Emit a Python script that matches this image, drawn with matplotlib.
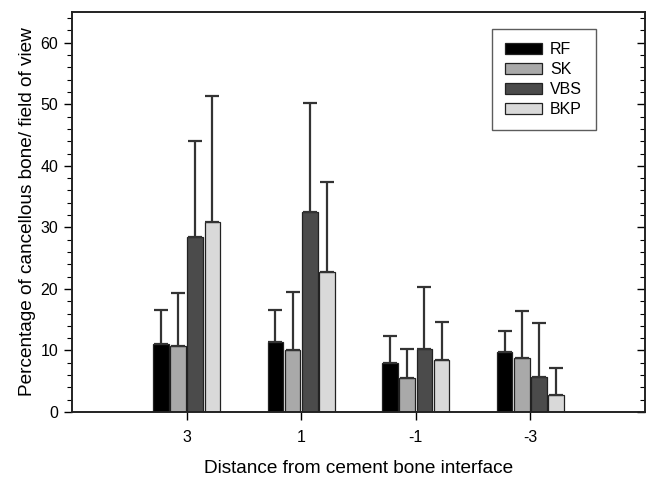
import numpy as np
import matplotlib
matplotlib.use("Agg")
import matplotlib.pyplot as plt
from matplotlib.ticker import MultipleLocator

plt.rcParams['font.family'] = ['Liberation Sans', 'DejaVu Sans']

distances = ['3', '1', '-1', '-3']
groups = ['RF', 'SK', 'VBS', 'BKP']
colors = ['#000000', '#a9a9a9', '#4b4b4b', '#d9d9d9']

means = {
    'RF':  [11.0, 11.3, 7.9, 9.8],
    'SK':  [10.7, 10.0, 5.6, 8.7],
    'VBS': [28.5, 32.5, 10.3, 5.7],
    'BKP': [30.9, 22.8, 8.4, 2.7],
}
upper = {
    'RF':  [16.6, 16.5, 12.3, 13.1],
    'SK':  [19.3, 19.5, 10.3, 16.4],
    'VBS': [44.0, 50.2, 20.3, 14.5],
    'BKP': [51.3, 37.3, 14.7, 7.1],
}

fig = plt.figure(figsize=(6.49, 4.78), dpi=100)
ax = fig.add_axes([72 / 649, 1 - 412 / 478, 573 / 649, 400 / 478])

x = np.arange(len(distances))
width = 0.135
step = 0.15
for i, g in enumerate(groups):
    m = np.array(means[g])
    err = np.array(upper[g]) - m
    ax.bar(x + (i - 1.5) * step, m, width, color=colors[i], edgecolor='#222222',
           linewidth=0.9, label=g, zorder=2,
           yerr=[np.zeros_like(err), err],
           error_kw=dict(ecolor='#333333', elinewidth=1.6, capsize=5, capthick=1.6))

ax.set_xlim(-1, 4)
ax.set_ylim(0, 65)
ax.set_xticks(x)
ax.set_xticklabels(distances)
ax.yaxis.set_major_locator(MultipleLocator(10))
ax.yaxis.set_minor_locator(MultipleLocator(2))
ax.tick_params(axis='x', direction='out', length=6, width=1, pad=7, labelsize=11.5)
ax.tick_params(axis='y', which='major', direction='out', length=6, width=1, pad=4, labelsize=11.5)
ax.tick_params(axis='y', which='minor', direction='out', length=3.5, width=0.8)

# right spine carries inward ticks, no labels
ax2 = ax.twinx()
ax2.set_ylim(ax.get_ylim())
ax2.yaxis.set_major_locator(MultipleLocator(10))
ax2.yaxis.set_minor_locator(MultipleLocator(2))
ax2.tick_params(axis='y', which='both', direction='in', labelright=False)
ax2.tick_params(axis='y', which='major', length=6, width=1)
ax2.tick_params(axis='y', which='minor', length=3.5, width=0.8)

for a in (ax, ax2):
    for s in a.spines.values():
        s.set_linewidth(1.2)
        s.set_color('#222222')

ax.set_xlabel('Distance from cement bone interface', fontsize=13.7, labelpad=11)
ax.set_ylabel('Percentage of cancellous bone/ field of view', fontsize=13.7, labelpad=3)

leg = ax.legend(loc='upper right', bbox_to_anchor=(0.914, 0.958), fancybox=False,
                edgecolor='#333333', fontsize=11.5, handlelength=2.3, handleheight=0.7,
                borderpad=0.85, labelspacing=0.3, handletextpad=0.5, borderaxespad=0)
leg.get_frame().set_linewidth(1.0)

fig.savefig('out.png', dpi=100)
